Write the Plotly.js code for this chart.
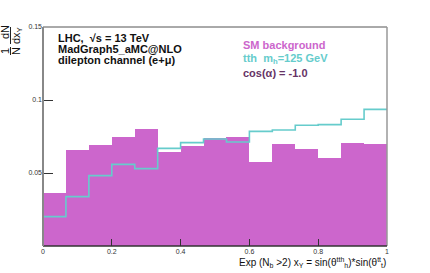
<!DOCTYPE html>
<html><head><meta charset="utf-8">
<script src="https://cdn.plot.ly/plotly-3.0.1.min.js"></script>
<style>html,body{margin:0;padding:0;background:#fff;}#plot{width:430px;height:273px;}</style>
</head><body><div id="plot"></div>
<script>
// Bin range and count
const xMin = 0, xMax = 1, nBins = 15;
// SM background (filled histogram), normalised
const smBackground = [0.0365, 0.0658, 0.0692, 0.0745, 0.0799, 0.0644, 0.0687, 0.0742, 0.0749, 0.0575, 0.0701, 0.0667, 0.0603, 0.0705, 0.0699];
// tth signal, m_h = 125 GeV, cos(alpha) = -1.0 (step line)
const tthSignal = [0.0201, 0.0338, 0.0482, 0.0559, 0.0530, 0.0669, 0.0708, 0.0733, 0.0712, 0.0785, 0.0795, 0.0827, 0.0831, 0.0868, 0.0936];
const xTickVals = [0, 0.2, 0.4, 0.6, 0.8, 1];
const xTickText = ['0', '0.2', '0.4', '0.6', '0.8', '1'];
const yTickVals = [0.05, 0.1, 0.15];
const yTickText = ['0.05', '0.1', '0.15'];
const infoLines = ['LHC,  √s = 13 TeV', 'MadGraph5_aMC@NLO', 'dilepton channel (e+μ)'];

const w = (xMax - xMin) / nBins;
const centers = smBackground.map((_, i) => xMin + (i + 0.5) * w);
const edges = [];
for (let i = 0; i <= nBins; i++) edges.push(xMin + i * w);
const stepY = tthSignal.concat([tthSignal[tthSignal.length - 1]]);

const magenta = '#cc66cc', cyan = '#66cccc';
const traces = [
  {type: 'bar', x: centers, y: smBackground, width: w, marker: {color: magenta, line: {width: 0}}, hoverinfo: 'skip'},
  {type: 'scatter', mode: 'lines', x: edges, y: stepY, line: {shape: 'hv', color: cyan, width: 1.6}, hoverinfo: 'skip'}
];

const F = 'Liberation Sans, Arial, sans-serif';
const L = 43, R = 387, T = 27, B = 246;
const px = v => (v - L) / (R - L);
const py = v => (B - v) / (B - T);

const ann = [];
infoLines.forEach((t, i) => ann.push({xref: 'paper', yref: 'paper', x: px(56), y: py(38 + i * 11), xanchor: 'left', yanchor: 'middle',
  showarrow: false, text: '<b>' + t + '</b>', font: {family: F, size: 11, color: '#111'}}));

const rot = (x, y, t) => ({xref: 'paper', yref: 'paper', x: px(x), y: py(y), xanchor: 'center', yanchor: 'middle', showarrow: false,
  textangle: -90, text: t, font: {family: F, size: 11, color: '#111'}});

const layout = {
  width: 430, height: 273,
  margin: {l: L, r: 430 - R, t: T, b: 273 - B, pad: 0},
  paper_bgcolor: '#fff', plot_bgcolor: '#fff',
  showlegend: false, bargap: 0,
  xaxis: {range: [xMin, xMax], tickvals: xTickVals, ticktext: xTickText, ticks: 'inside', ticklen: 7, tickwidth: 1, tickcolor: '#333',
    showgrid: false, zeroline: false, showline: false, tickfont: {family: F, size: 7, color: '#333'}},
  yaxis: {range: [0, 0.15], tickvals: yTickVals, ticktext: yTickText, ticks: 'inside', ticklen: 10, tickwidth: 1, tickcolor: '#333',
    showgrid: false, zeroline: false, showline: false, tickfont: {family: F, size: 7, color: '#333'}},
  shapes: [
    {type: 'line', xref: 'paper', yref: 'paper', x0: 0, x1: 1, y0: 1, y1: 1, line: {color: '#555', width: 1}},
    {type: 'line', xref: 'paper', yref: 'paper', x0: 1, x1: 1, y0: 0, y1: 1, line: {color: '#999', width: 1.5}},
    {type: 'line', xref: 'paper', yref: 'paper', x0: 0, x1: 1, y0: 0, y1: 0, line: {color: '#333', width: 1.5}},
    {type: 'line', xref: 'paper', yref: 'paper', x0: 0, x1: 0, y0: 0, y1: 1, line: {color: '#888', width: 2}},
    // fraction bars of y title
    {type: 'line', xref: 'paper', yref: 'paper', x0: px(10.5), x1: px(10.5), y0: py(47), y1: py(55), line: {color: '#222', width: 1}},
    {type: 'line', xref: 'paper', yref: 'paper', x0: px(10.5), x1: px(10.5), y0: py(27), y1: py(44), line: {color: '#222', width: 1}}
  ],
  annotations: ann.concat([
    {xref: 'paper', yref: 'paper', x: px(241), y: py(45), xanchor: 'left', yanchor: 'middle', showarrow: false,
      text: '<b>SM background</b>', font: {family: F, size: 11, color: magenta}},
    {xref: 'paper', yref: 'paper', x: px(241), y: py(59), xanchor: 'left', yanchor: 'middle', showarrow: false,
      text: '<b>tth  m<sub>h</sub>=125 GeV</b>', font: {family: F, size: 11, color: cyan}},
    {xref: 'paper', yref: 'paper', x: px(241), y: py(73), xanchor: 'left', yanchor: 'middle', showarrow: false,
      text: '<b>cos(α) = -1.0</b>', font: {family: F, size: 11, color: '#663366'}},
    {xref: 'paper', yref: 'paper', x: px(388), y: py(262), xanchor: 'right', yanchor: 'middle', showarrow: false,
      text: 'Exp (N<sub>b</sub> >2) x<sub>Y</sub> = sin(θ<sup>tth</sup><sub>h</sub>)*sin(θ<sup>tt</sup><sub>t</sub>)', font: {family: F, size: 10, color: '#111'}},
    rot(5, 51, '1'),
    rot(16, 51, 'N'),
    rot(5, 32, 'dN'),
    rot(17, 36, 'dx<sub>Y</sub>')
  ])
};
Plotly.newPlot('plot', traces, layout, {staticPlot: true, displayModeBar: false});
</script></body></html>
